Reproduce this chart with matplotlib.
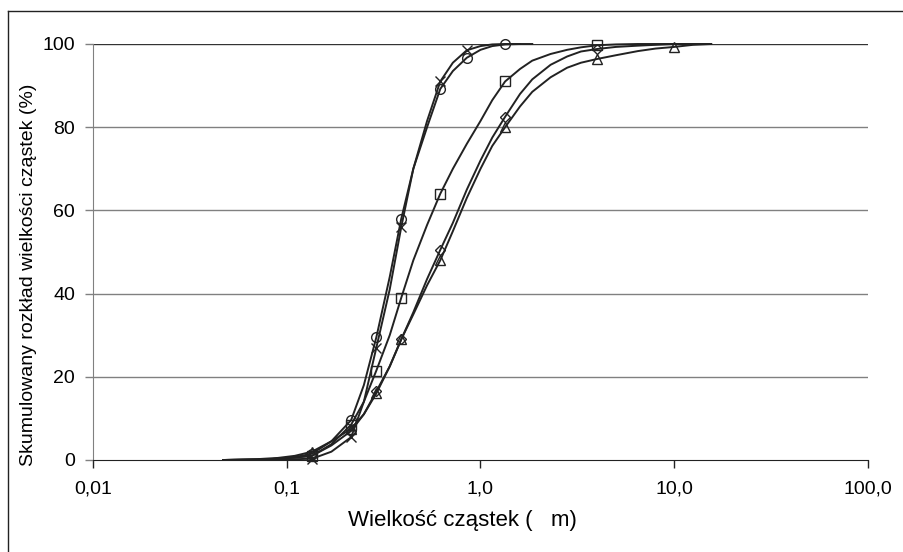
import matplotlib
matplotlib.use("Agg")
import matplotlib.pyplot as plt
import numpy as np

# particle size grid (um)
sizes = [0.047, 0.07, 0.09, 0.11, 0.135, 0.17, 0.215, 0.25, 0.29, 0.34, 0.39,
         0.45, 0.53, 0.62, 0.72, 0.85, 1.0, 1.15, 1.34, 1.6, 1.85, 2.3, 2.8,
         3.3, 4.0, 5.0, 6.5, 8.0, 10.0, 12.5, 15.5]

nan = np.nan
s_circle = [0, 0.1, 0.3, 0.7, 1.5, 4.5, 9.6, 18, 29.5, 44, 58,
            70, 80, 89.2, 93.5, 96.7, 98.6, 99.5, 99.9, 100, 100, nan, nan,
            nan, nan, nan, nan, nan, nan, nan, nan]
s_cross = [0, 0, 0.1, 0.2, 0.3, 2.0, 5.5, 14, 27, 41, 56,
           70, 81.5, 91, 95.5, 98.5, 99.5, 99.9, 100, 100, nan, nan, nan,
           nan, nan, nan, nan, nan, nan, nan, nan]
s_square = [0, 0.1, 0.3, 0.6, 1.0, 3.8, 8.5, 14, 21.5, 30, 39,
            48, 56.5, 64, 70, 76, 81.5, 86.5, 91, 94, 96, 97.6, 98.6,
            99.2, 99.7, 99.9, 100, 100, 100, 100, 100]
s_diamond = [0, 0.1, 0.3, 0.6, 1.0, 3.5, 7.0, 11, 16.5, 22.5, 29,
             35.5, 43.5, 50.5, 57, 65, 72, 77.5, 82.5, 88, 91.5, 95, 97,
             98.2, 98.8, 99.3, 99.6, 99.8, 100, 100, 100]
s_triangle = [0, 0.2, 0.5, 1.0, 2.0, 4.5, 7.5, 11, 16, 22.5, 29,
              35, 42, 48, 55, 63, 70, 75.5, 80, 85, 88.5, 92, 94.3,
              95.5, 96.4, 97.3, 98.3, 98.9, 99.3, 99.8, 100]

# where the markers sit on each curve
mk_circle = [0.135, 0.215, 0.29, 0.39, 0.62, 0.85, 1.34]
mk_cross = [0.135, 0.215, 0.29, 0.39, 0.62, 0.85]
mk_square = [0.135, 0.215, 0.29, 0.39, 0.62, 1.34, 4.0]
mk_diamond = [0.135, 0.215, 0.29, 0.39, 0.62, 1.34, 4.0]
mk_triangle = [0.135, 0.215, 0.29, 0.39, 0.62, 1.34, 4.0, 10.0]

xticks = [0.01, 0.1, 1, 10, 100]
xtick_labels = ["0,01", "0,1", "1,0", "10,0", "100,0"]
yticks = [0, 20, 40, 60, 80, 100]

plt.rcParams["font.family"] = ["Liberation Sans", "DejaVu Sans"]

fig = plt.figure(figsize=(9.04, 5.52), dpi=100)
ax = fig.add_axes([93 / 904, 1 - 460 / 552, 775 / 904, 416 / 552])

series = [(s_circle, mk_circle, "o", 7),
          (s_cross, mk_cross, "x", 7),
          (s_square, mk_square, "s", 6.5),
          (s_diamond, mk_diamond, "D", 5.5),
          (s_triangle, mk_triangle, "^", 7)]
for vals, mks, m, ms in series:
    idx = [sizes.index(v) for v in mks]
    ax.plot(sizes, vals, color="#222222", lw=1.4, marker=m, ms=ms,
            mfc="none", mec="#222222", mew=1.0, markevery=idx,
            clip_on=False, zorder=3)

ax.set_xscale("log")
ax.set_xlim(0.01, 100)
ax.set_ylim(0, 100)
ax.set_xticks(xticks)
ax.set_xticklabels(xtick_labels)
ax.xaxis.set_minor_locator(matplotlib.ticker.NullLocator())
ax.set_yticks(yticks)
for y in yticks[1:]:
    ax.axhline(y, color="#808080" if y < 100 else "#333333", lw=1.0, zorder=1)

for s in ["top", "right"]:
    ax.spines[s].set_visible(False)
ax.spines["left"].set_color("#808080")
ax.spines["bottom"].set_color("#222222")
ax.tick_params(axis="x", direction="out", length=6, width=1, color="#222222",
               labelsize=14, pad=9)
ax.tick_params(axis="y", direction="out", length=6, width=1, color="#808080",
               labelsize=14, pad=7)

ax.set_xlabel("Wielkość cząstek (   m)", fontsize=16)
ax.xaxis.set_label_coords(0.477, -0.12)
ax.set_ylabel("Skumulowany rozkład wielkości cząstek (%)", fontsize=14)
ax.yaxis.set_label_coords(-0.072, 0.446)

# outer frame (only top and left edges visible)
fig.add_artist(plt.Line2D([8 / 904, 8 / 904], [0, 1 - 11 / 552],
                          transform=fig.transFigure, color="#222222", lw=1))
fig.add_artist(plt.Line2D([8 / 904, 1], [1 - 11 / 552, 1 - 11 / 552],
                          transform=fig.transFigure, color="#222222", lw=1))

fig.savefig("out.png", dpi=100)
